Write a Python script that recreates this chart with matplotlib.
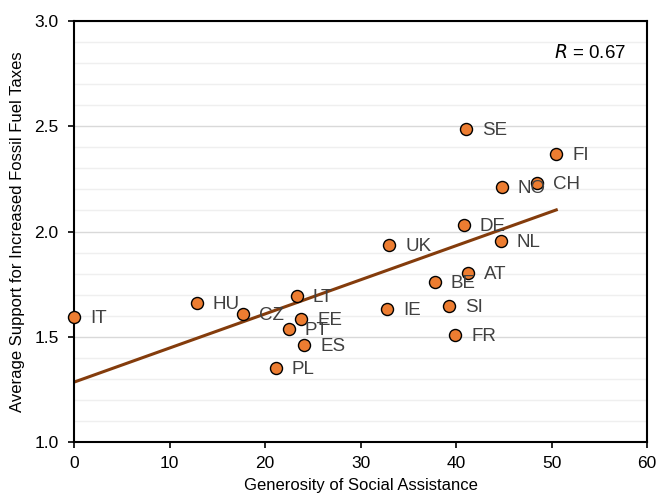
import numpy as np
import matplotlib
matplotlib.use("Agg")
import matplotlib.pyplot as plt
from matplotlib.ticker import MultipleLocator, FormatStrFormatter

plt.rcParams["font.family"] = ["Liberation Sans", "DejaVu Sans"]

# 国家 / 社会救助慷慨度 / 对化石燃料税的平均支持度
countries = ["IT", "HU", "CZ", "LT", "EE", "PT", "ES", "PL", "SE", "FI", "NO", "CH",
             "DE", "UK", "NL", "AT", "BE", "IE", "SI", "FR"]
generosity = [0.0, 12.85, 17.7, 23.3, 23.8, 22.5, 24.1, 21.15, 41.05, 50.5, 44.8, 48.45,
              40.8, 33.0, 44.7, 41.3, 37.8, 32.8, 39.3, 39.9]
support = [1.594, 1.662, 1.607, 1.695, 1.583, 1.537, 1.461, 1.350, 2.488, 2.368, 2.213, 2.232,
           2.029, 1.937, 1.953, 1.801, 1.760, 1.630, 1.646, 1.507]
r_text = "$R$ = 0.67"

x = np.array(generosity)
y = np.array(support)
slope, icpt = np.polyfit(x, y, 1)

fig = plt.figure(figsize=(6.57, 4.96), dpi=100)
ax = fig.add_axes([74 / 657, 54 / 496, 573 / 657, 421 / 496])

ax.set_xlim(0, 60)
ax.set_ylim(1.0, 3.0)
ax.xaxis.set_major_locator(MultipleLocator(10))
ax.yaxis.set_major_locator(MultipleLocator(0.5))
ax.yaxis.set_minor_locator(MultipleLocator(0.1))
ax.yaxis.set_major_formatter(FormatStrFormatter("%.1f"))
ax.grid(axis="y", which="major", color="#d9d9d9", lw=1.0)
ax.grid(axis="y", which="minor", color="#efefef", lw=1.0)
ax.set_axisbelow(True)
ax.tick_params(axis="y", which="minor", length=0)
ax.tick_params(axis="both", which="major", labelsize=12.5, length=4, width=1.2,
               direction="out", colors="black")
ax.tick_params(axis="y", pad=7)
ax.tick_params(axis="x", pad=6)
ax.tick_params(top=False, right=False)
for s in ax.spines.values():
    s.set_linewidth(1.5)

xl = np.array([x.min(), x.max()])
ax.plot(xl, icpt + slope * xl, color="#843c0c", lw=2.2, zorder=2)
ax.scatter(x, y, s=75, color="#ed7d31", edgecolors="black", linewidths=1.0, zorder=3,
           clip_on=False)
for c, xi, yi in zip(countries, x, y):
    ax.annotate(c, (xi, yi), xytext=(11.5, -1), textcoords="offset points",
                va="center", ha="left", fontsize=13.5, color="#404040")

ax.text(0.963, 0.925, r_text, transform=ax.transAxes, ha="right", va="center",
        fontsize=13.5)
ax.set_xlabel("Generosity of Social Assistance", fontsize=12, labelpad=5)
ax.set_ylabel("Average Support for Increased Fossil Fuel Taxes", fontsize=12, labelpad=7)

fig.savefig("out.png", dpi=100)
